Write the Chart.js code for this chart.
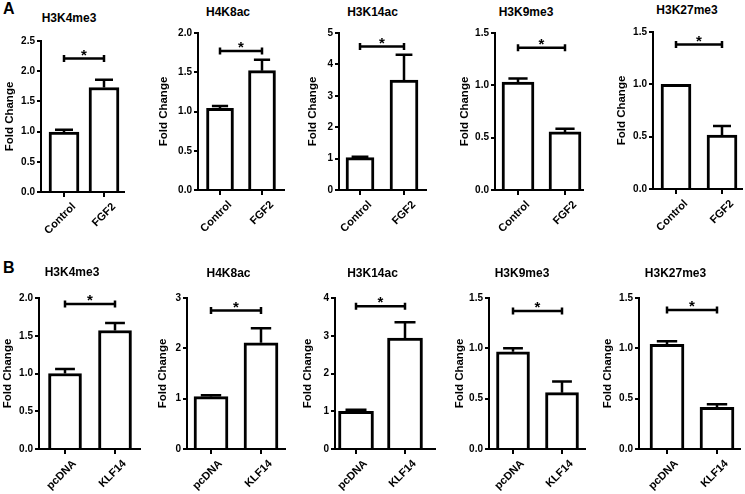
<!DOCTYPE html>
<html><head><meta charset="utf-8">
<script src="https://cdn.jsdelivr.net/npm/chart.js@4/dist/chart.umd.min.js"></script>
<style>
body{margin:0;background:#fff;width:745px;height:494px;overflow:hidden;position:relative;font-family:"Liberation Sans",Arial,sans-serif;color:#000}
canvas{position:absolute}
.lbl{position:absolute;font-weight:bold;font-size:16px;line-height:18px}
.ttl{position:absolute;font-weight:bold;font-size:12px;line-height:14px;white-space:nowrap;transform:translateX(-50%)}
.xl{position:absolute;font-weight:bold;font-size:11px;line-height:12px;white-space:nowrap;transform-origin:100% 0;transform:rotate(-45deg)}
</style></head><body>
<div class="lbl" style="left:3px;top:0px">A</div>
<div class="lbl" style="left:3px;top:259px">B</div>
<script>
// ---- data ----
const markers = ['H3K4me3','H4K8ac','H3K14ac','H3K9me3','H3K27me3'];
const groupsA = ['Control','FGF2'];
const groupsB = ['pcDNA','KLF14'];
const meanA = [[0.99,1.73],[1.04,1.52],[1.03,3.50],[1.03,0.555],[1.00,0.515]];
const semA  = [[0.04,0.13],[0.03,0.14],[0.03,0.81],[0.035,0.03],[0,0.087]];
const sigA  = [2.21,1.77,4.57,1.36,1.38];
const yMaxA = [2.5,2.0,5,1.5,1.5];
const yStepA= [0.5,0.5,1,0.5,0.5];
const meanB = [[1.00,1.57],[1.04,2.11],[1.00,2.94],[0.965,0.56],[1.04,0.415]];
const semB  = [[0.06,0.10],[0.03,0.29],[0.04,0.42],[0.035,0.11],[0.03,0.03]];
const sigB  = [1.92,2.75,3.78,1.37,1.38];
const yMaxB = [2.0,3,4,1.5,1.5];
const yStepB= [0.5,1,1,0.5,0.5];
const yLabel = 'Fold Change';

// ---- layout (pixel placement of each panel) ----
const rowTopA = 0, rowTopB = 240;
const layA = [
 {L:41,R:124,c1:64,c2:104,bw:30,top:41,bottom:192,ty:18,tx:69,fx:10},
 {L:198,R:284,c1:220,c2:262,bw:27,top:33,bottom:190,ty:12,tx:228,fx:163.5},
 {L:339,R:426,c1:360,c2:404,bw:28,top:33,bottom:190,ty:12,tx:372.5,fx:313},
 {L:495,R:583,c1:518,c2:565,bw:32,top:33,bottom:190,ty:12,tx:526,fx:465},
 {L:653,R:742,c1:676,c2:722,bw:30,top:32,bottom:189,ty:10,tx:687,fx:622}
];
const layB = [
 {L:39,R:140,c1:65,c2:115,bw:33,top:298,bottom:449,ty:272,tx:72,fx:7.5},
 {L:187,R:285,c1:211,c2:261,bw:34,top:298,bottom:449,ty:273,tx:228.5,fx:162.5},
 {L:335,R:435,c1:356,c2:405,bw:35,top:298,bottom:449,ty:273,tx:372.5,fx:307.5},
 {L:489,R:585,c1:513,c2:562,bw:33,top:298,bottom:449,ty:273,tx:522,fx:460},
 {L:639,R:740,c1:667,c2:717,bw:34,top:298,bottom:449,ty:273,tx:675.5,fx:608}
];

const F = '"Liberation Sans", Arial, sans-serif';

function makePanel(rowTop, lay, title, groups, means, sems, sig, ymax, ystep){
  const t = document.createElement('div');
  t.className='ttl'; t.textContent=title;
  t.style.left = lay.tx+'px'; t.style.top=(lay.ty-7)+'px';
  document.body.appendChild(t);

  const cv = document.createElement('canvas');
  const left = Math.round(lay.fx - 7);
  const w = lay.R - left + 3;
  const h = lay.bottom - rowTop + 50;
  cv.width=w; cv.height=h;
  cv.style.left=left+'px'; cv.style.top=rowTop+'px';
  cv.style.width=w+'px'; cv.style.height=h+'px';
  document.body.appendChild(cv);

  const s = lay.c2 - lay.c1;
  const xmin = 1 - (lay.c1-lay.L)/s, xmax = 2 + (lay.R-lay.c2)/s;
  const dec = ystep < 1 ? 1 : 0;

  const marks = {
    id:'semMarks',
    afterDatasetsDraw(chart){
      const ctx = chart.ctx, x = chart.scales.x, y = chart.scales.y;
      ctx.save();
      ctx.strokeStyle='#000'; ctx.lineWidth=2.5; ctx.lineCap='butt';
      means.forEach((m,i)=>{
        const e = sems[i]; if(!e) return;
        const px = x.getPixelForValue(i+1), y0 = y.getPixelForValue(m), y1 = y.getPixelForValue(m+e);
        const hw = lay.bw*0.3;
        ctx.beginPath();
        ctx.moveTo(px,y0); ctx.lineTo(px,y1);
        ctx.moveTo(px-hw,y1); ctx.lineTo(px+hw,y1);
        ctx.stroke();
      });
      const by = y.getPixelForValue(sig), x1 = x.getPixelForValue(1), x2 = x.getPixelForValue(2);
      ctx.beginPath();
      ctx.moveTo(x1,by); ctx.lineTo(x2,by);
      ctx.moveTo(x1,by-3.5); ctx.lineTo(x1,by+3.5);
      ctx.moveTo(x2,by-3.5); ctx.lineTo(x2,by+3.5);
      ctx.stroke();
      ctx.fillStyle='#000'; ctx.font='bold 15px '+F; ctx.textAlign='center'; ctx.textBaseline='alphabetic';
      ctx.fillText('*',(x1+x2)/2, by+1);
      ctx.restore();
    }
  };

  const chart = new Chart(cv,{
    type:'bar',
    data:{datasets:[{
      data: means.map((v,i)=>({x:i+1,y:v})),
      backgroundColor:'#fff', borderColor:'#000', borderWidth:3,
      barThickness: lay.bw
    }]},
    options:{
      responsive:false, animation:false, devicePixelRatio:1,
      layout:{padding:{left:0,right:3,top:lay.top-rowTop,bottom:0}},
      plugins:{legend:{display:false},tooltip:{enabled:false},title:{display:false}},
      scales:{
        x:{
          type:'linear', min:xmin, max:xmax, offset:false,
          afterBuildTicks: sc => { sc.ticks = [{value:1},{value:2}]; },
          afterFit: sc => { sc.height = 50; },
          grid:{drawOnChartArea:false, drawTicks:true, tickLength:5, color:'#000', lineWidth:2, offset:false},
          border:{display:true,color:'#000',width:2},
          ticks:{display:false}
        },
        y:{
          min:0, max:ymax,
          afterFit: sc => { sc.width = lay.L - left; },
          grid:{drawOnChartArea:false, drawTicks:true, tickLength:4, color:'#000', lineWidth:2},
          border:{display:true,color:'#000',width:2},
          ticks:{stepSize:ystep, callback:v => Number(v).toFixed(dec), color:'#000',
                 font:{family:F,size:10,weight:'bold'}, padding:2},
          title:{display:true, text:yLabel, color:'#000', padding:0,
                 font:{family:F,size:11.5,weight:'bold',lineHeight:1.2}}
        }
      }
    },
    plugins:[marks]
  });

  // rotated category labels placed at the scale's tick positions
  const xs = chart.scales.x;
  groups.forEach((g,i)=>{
    const d = document.createElement('div');
    d.className='xl'; d.textContent=g;
    document.body.appendChild(d);
    const ax = left + xs.getPixelForValue(i+1) + 5;
    const ay = rowTop + xs.top + 8;
    d.style.left = (ax - d.offsetWidth)+'px';
    d.style.top = ay+'px';
  });
}

markers.forEach((m,i)=>makePanel(rowTopA, layA[i], m, groupsA, meanA[i], semA[i], sigA[i], yMaxA[i], yStepA[i]));
markers.forEach((m,i)=>makePanel(rowTopB, layB[i], m, groupsB, meanB[i], semB[i], sigB[i], yMaxB[i], yStepB[i]));
</script>
</body></html>
